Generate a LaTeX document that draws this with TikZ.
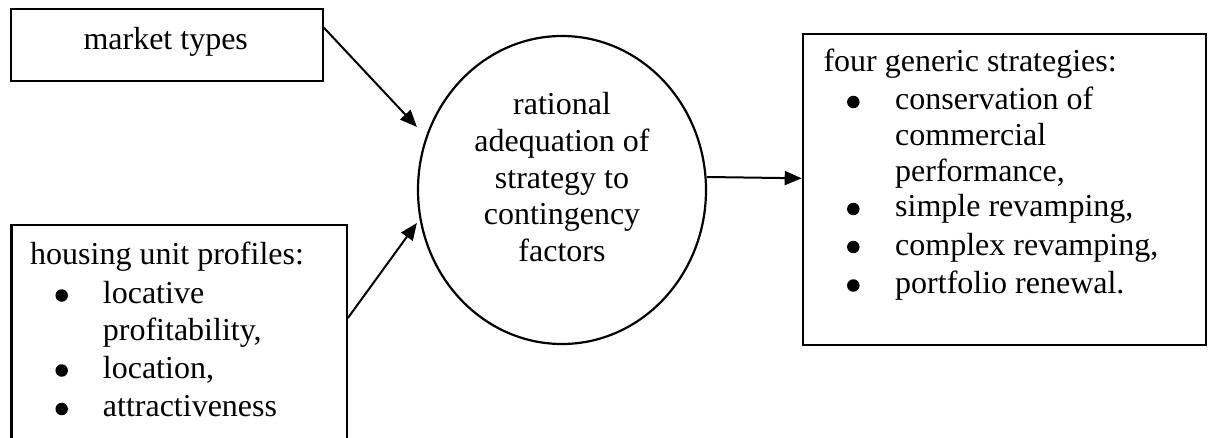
\documentclass[tikz,border=0pt]{standalone}
\usepackage{fontspec}
\setmainfont{Liberation Serif}
\usetikzlibrary{arrows.meta,shapes.geometric}
\newcommand\diagfont{\fontsize{32}{37}\selectfont}
\begin{document}
\begin{tikzpicture}[x=1pt,y=-1pt,
  box/.style={draw, line width=2.2pt, rectangle, inner sep=0pt, anchor=north west},
  hub/.style={draw, line width=2.2pt, ellipse, inner sep=0pt,
    minimum width=288pt, minimum height=308pt},
  txt/.style={anchor=base west, inner sep=0pt, font=\diagfont},
  ctxt/.style={anchor=base, inner sep=0pt, font=\diagfont},
  dot/.style={circle, fill, inner sep=0pt, minimum size=12.5pt},
  conn/.style={line width=2pt, -{Triangle[length=17pt,width=14pt]}}
]
\useasboundingbox (0,0) rectangle (1209,438);
\clip (0,0) rectangle (1209,438);

% input boxes, central process, output box
\node[box, minimum width=312pt, minimum height=72pt] (market) at (9.7,7.7) {};
\node[box, minimum width=335.4pt, minimum height=260pt] (housing) at (10.3,224.3) {};
\node[hub] (hub) at (562,190) {};
\node[box, minimum width=403.3pt, minimum height=311pt] (strat) at (801.7,32.7) {};

% market types
\node[ctxt] (mtext) at (165.7,50) {market types};

% housing unit profiles
\node[txt] (htitle) at (30,265) {housing unit profiles:};
\node[dot] (hb1) at (61.7,295.5) {};
\node[txt] (h1a) at (102.7,303.3) {locative};
\node[txt] (h1b) at (102.7,340.5) {profitability,};
\node[dot] (hb2) at (61.7,370.5) {};
\node[txt] (h2) at (102.7,378.3) {location,};
\node[dot] (hb3) at (61.7,409) {};
\node[txt] (h3) at (102.7,416.7) {attractiveness};

% central process text
\node[ctxt] (c1) at (562,115) {rational};
\node[ctxt] (c2) at (562,151.5) {adequation of};
\node[ctxt] (c3) at (562,188.3) {strategy to};
\node[ctxt] (c4) at (562,225) {contingency};
\node[ctxt] (c5) at (562,261.7) {factors};

% four generic strategies
\node[txt] (stitle) at (823.3,71.5) {four generic strategies:};
\node[dot] (sb1) at (853.3,102) {};
\node[txt] (s1a) at (895,110) {conservation of};
\node[txt] (s1b) at (895,145.5) {commercial};
\node[txt] (s1c) at (895,181.7) {performance,};
\node[dot] (sb2) at (853.3,209) {};
\node[txt] (s2) at (895,217) {simple revamping,};
\node[dot] (sb3) at (853.3,247) {};
\node[txt] (s3) at (895,255) {complex revamping,};
\node[dot] (sb4) at (853.3,285.5) {};
\node[txt] (s4) at (895,293.3) {portfolio renewal.};

% connectors
\draw[conn] ([yshift=-20pt]market.north east) -- ([yshift=63pt]hub.west);
\draw[conn] ([yshift=-93.7pt]housing.north east) -- ([yshift=-33pt]hub.west);
\draw[conn] ([yshift=13pt]hub.east) -- ([yshift=11pt]strat.west);
\end{tikzpicture}
\end{document}
